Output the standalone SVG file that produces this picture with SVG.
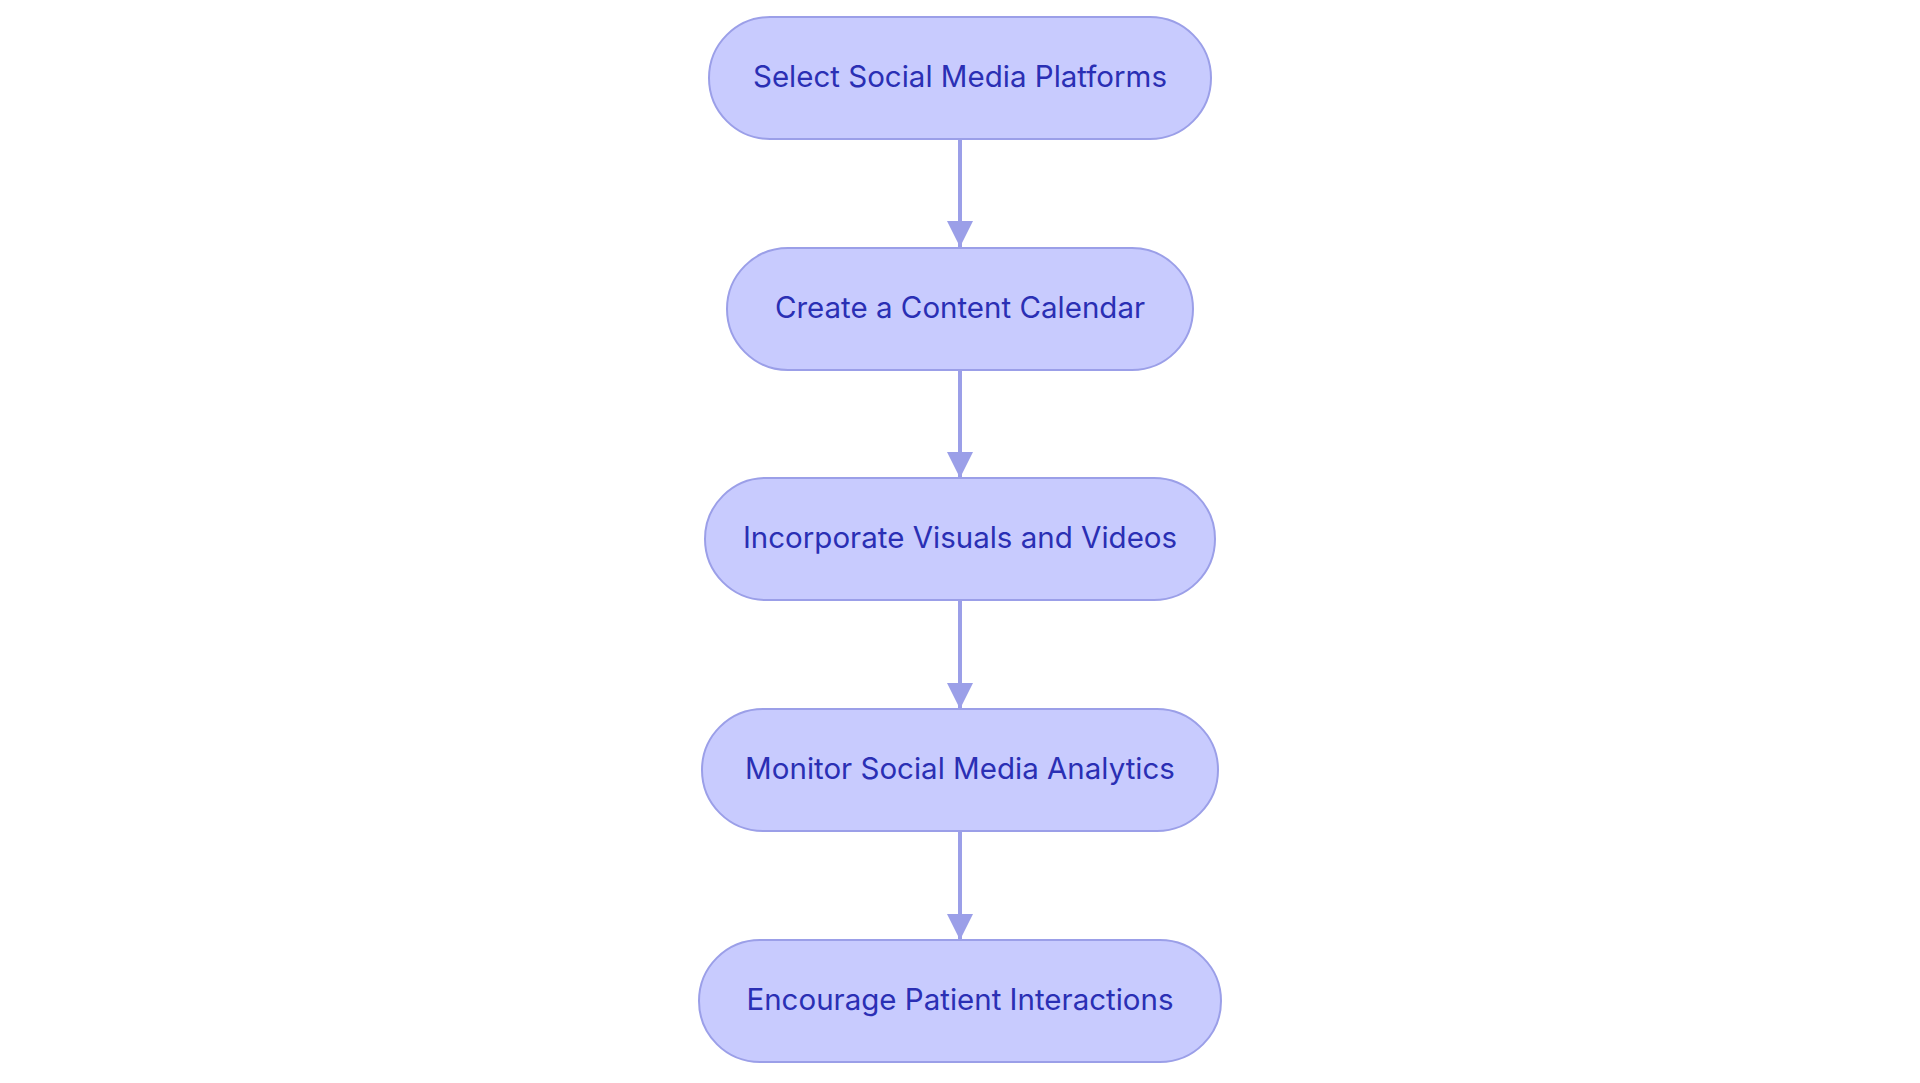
<svg xmlns="http://www.w3.org/2000/svg" width="1920" height="1083" viewBox="0 0 1920 1083">
<defs>
<style>
.node rect{fill:#c8cbfe;stroke:#9b9fe8;stroke-width:2}
.node text{font-family:Inter,"Noto Sans",sans-serif;font-size:29.5px;font-weight:400;fill:#2a2fb4;text-anchor:middle;dominant-baseline:central}
.edge{stroke:#9b9fe8;stroke-width:4;fill:none}
</style>
<marker id="ah" viewBox="0 0 10 10" refX="10" refY="5" markerWidth="6.5" markerHeight="6.5" markerUnits="strokeWidth" orient="auto">
<path d="M0,0L10,5L0,10z" fill="#9b9fe8"/>
</marker>
</defs>
<rect width="1920" height="1083" fill="#ffffff"/>
<g id="connectors">
<line class="edge" x1="960" y1="140" x2="960" y2="247" marker-end="url(#ah)"/>
<line class="edge" x1="960" y1="370" x2="960" y2="478" marker-end="url(#ah)"/>
<line class="edge" x1="960" y1="600" x2="960" y2="709" marker-end="url(#ah)"/>
<line class="edge" x1="960" y1="831" x2="960" y2="940" marker-end="url(#ah)"/>
</g>
<g id="n1" class="node"><rect x="709" y="17" width="502" height="122" rx="61" ry="61"/><text x="960" y="76">Select Social Media Platforms</text></g>
<g id="n2" class="node"><rect x="727" y="248" width="466" height="122" rx="61" ry="61"/><text x="960" y="307">Create a Content Calendar</text></g>
<g id="n3" class="node"><rect x="705" y="478" width="510" height="122" rx="61" ry="61"/><text x="960" y="537">Incorporate Visuals and Videos</text></g>
<g id="n4" class="node"><rect x="702" y="709" width="516" height="122" rx="61" ry="61"/><text x="960" y="768">Monitor Social Media Analytics</text></g>
<g id="n5" class="node"><rect x="699" y="940" width="522" height="122" rx="61" ry="61"/><text x="960" y="999">Encourage Patient Interactions</text></g>
</svg>
